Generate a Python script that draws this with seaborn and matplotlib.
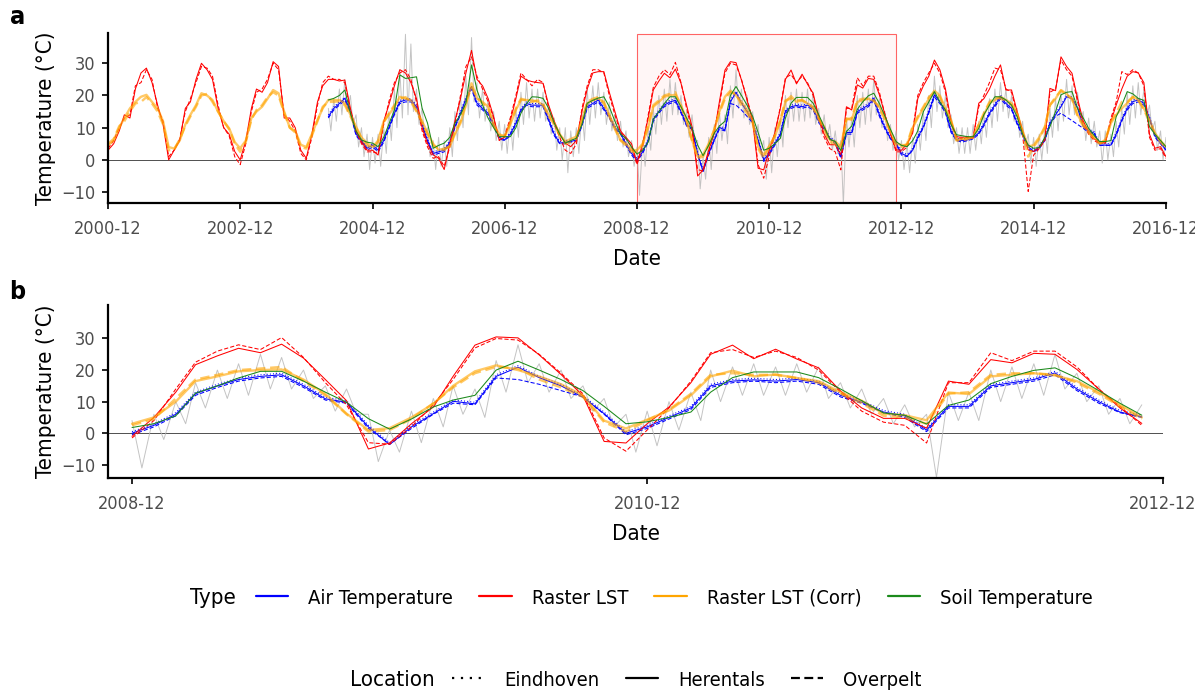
import matplotlib
matplotlib.use("Agg")
import numpy as np
import pandas as pd
import matplotlib.pyplot as plt
import matplotlib.dates as mdates
from matplotlib.lines import Line2D
import seaborn as sns

# ---- data (monthly values) ----
months = pd.date_range("2000-12-01", "2016-12-01", freq="MS")   # 193 months

# Raster LST, Herentals (solid) / Overpelt (dashed), 2000-12 .. 2016-12
lst_herentals = [3,
    5, 9, 14, 13, 22, 27, 28.5, 24, 17, 11, 0, 3,
    6, 16, 18, 25, 30, 28, 25, 16, 10, 8, 2.6, 0,
    6, 16, 22, 21, 24, 30.5, 29, 13, 13, 10, 3, 0.5,
    8, 18, 23, 25, 25, 24.5, 24.8, 16, 9, 5.7, 3, 3,
    1.5, 12, 17, 23, 28, 27, 24, 19, 10, 5, 1.6, 0.5,
    -3, 5, 12, 19, 27, 34, 25, 23, 19, 13.4, 6.2, 7,
    12, 19, 26, 24.8, 24.3, 24, 23.8, 17, 12, 8, 5.2, 4.1,
    6, 15, 22, 27, 27.4, 27.4, 21, 15, 9, 7, 5, -1,
    5, 13, 21.7, 24.5, 26.9, 25.5, 28.2, 23.8, 17, 10.3, -5, -3.1,
    3, 8.3, 18, 27.9, 30.5, 30.2, 24.8, 18.6, 11.9, -2.6, -3.1, 3,
    8.3, 16, 25, 27.9, 23.6, 26.6, 23.5, 20.7, 13.4, 8, 4.7, 4.7,
    1.6, 16.5, 15.5, 23.3, 22.3, 25.3, 25, 20.2, 14, 8, 3.1, 3,
    5, 8.3, 19, 23, 26, 31, 28, 22, 12, 7.2, 7, 7.2,
    6.7, 17.6, 19, 22, 26, 29.5, 21.7, 21.7, 15, 9, 3.1, 2.6,
    4, 6.5, 22.2, 21.5, 32, 29, 26.9, 19, 12, 8.8, 6.5, 5.5,
    5.2, 12, 17, 22, 26, 27.4, 27, 24, 8, 3.6, 4.1, 1]
lst_overpelt = [3.5,
    6, 10, 13, 14, 23, 24, 28, 25, 16, 12, 1, 3,
    6.5, 15, 19, 24, 29, 28.5, 26, 17, 10, 7.5, 1, -1.5,
    5, 15, 21, 22, 25, 30, 28, 14, 12, 9, 2, 0,
    7, 17, 24, 26, 25, 25, 24, 15, 9, 5, 2.5, 2.5,
    2, 11, 18, 24, 27, 28, 25, 18, 9, 4, 0.5, 1,
    -2, 4, 11, 20, 29, 32, 26, 22, 18, 13, 6, 7.5,
    13, 20, 27, 25, 23, 25, 24, 16, 11, 7, 3, 2,
    5, 16, 23, 28, 28, 27, 20, 14, 8.5, 6.5, 4, -1.5,
    4, 14, 22.5, 26, 28, 26.5, 30.3, 24, 16, 9, -3, -3.5,
    2, 9, 17, 27, 30, 29.5, 25, 19, 12.5, -1.5, -5.7, 1,
    8, 16.5, 25.5, 26.5, 24, 26, 24, 20, 13, 7, 3.5, 2.5,
    -3.1, 16, 16, 25.5, 23, 26, 26, 21, 14, 8.5, 2.5, 2.5,
    4, 9, 20, 24, 27, 30, 27, 21, 11, 7, 6.5, 7,
    7, 16.5, 20, 24, 28.5, 28, 22, 21, 14, 8, -9.8, 1.5,
    3.5, 6, 21, 22, 31, 28, 26, 18, 11, 8, 6, 5,
    5.5, 13, 18, 27.4, 26.5, 28, 27, 23, 7, 3, 3.5, 0.5]

# Raster LST (Corr)
lstc_herentals = [4.5,
    6, 10, 13, 16, 18, 19.6, 20.2, 18, 16, 12, 4, 3.5,
    6, 11, 14, 17, 20.7, 20, 18.6, 15, 12, 9.8, 5.5, 3.6,
    6, 13, 15, 16.5, 19, 21.7, 20.7, 15, 10, 9, 4.7, 4,
    8, 12.4, 16, 18.6, 18.6, 18.6, 17.6, 14, 10.3, 7, 5.2, 4,
    6, 12, 14, 16.5, 19.6, 19, 18.6, 15.5, 12, 8.3, 5, 3.1,
    3.5, 4.1, 8, 11.4, 17, 23.8, 19.1, 18, 16.5, 11, 8, 7.2,
    11, 15.5, 18.6, 18.6, 18.5, 18.1, 17, 14, 11.4, 8, 5.7, 6.5,
    7.2, 12, 17.6, 18.5, 19.1, 18, 14, 10, 6.2, 5, 3.1, 3,
    5, 10, 16.5, 18, 19.6, 20, 20.2, 17, 12.4, 6.2, 1, 1.6,
    5, 9.3, 15, 19.6, 21.5, 20, 18, 15.5, 12, 4, 1.5, 4.3,
    7.2, 12, 18, 19.8, 18, 18.6, 17.5, 16.5, 13, 10.3, 6.2, 5.7,
    4.1, 12.9, 12.4, 18, 18.5, 19, 18.3, 16.5, 13, 9, 5, 4.6,
    4.6, 10, 13, 16, 19, 21.5, 20, 16, 12.4, 6.2, 6.5, 6.7,
    7.2, 11, 14, 17.6, 18.6, 19.6, 18.6, 17.6, 14.5, 9, 4.1, 4.6,
    7, 10.3, 17, 19, 21.7, 20.5, 19, 14, 11, 9, 7, 5.2,
    6.2, 11.4, 14, 16, 17.6, 19.6, 18.6, 16, 12.4, 8.3, 6, 4]
lstc_overpelt = [5,
    6.5, 10.5, 12, 15, 17.5, 18, 19.5, 17.5, 15, 11, 3, 3,
    6.5, 10.5, 13.5, 16.5, 20, 20.5, 18, 15, 12, 9.5, 5, 2.5,
    5.5, 12.5, 15.5, 17, 19.5, 21, 20, 14.5, 10, 8.5, 4, 3.5,
    7.5, 12, 16.5, 18, 18, 18.2, 17, 13.5, 10, 6.5, 4.5, 3.5,
    5.5, 11.5, 14.5, 17, 19, 19.5, 18, 15, 11.5, 8, 4.5, 3.5,
    3, 4.5, 8.5, 12, 18, 22.5, 19.5, 17.5, 16, 10.5, 7.5, 7.5,
    11.5, 16, 19, 18.5, 18, 18.5, 17.5, 13.5, 11, 7.5, 5, 5.5,
    6.5, 12.5, 18, 19, 19.5, 17.5, 13.5, 9.5, 6, 4.5, 2.5, 2.5,
    4.5, 11, 17, 18.5, 20, 20.5, 21, 16.5, 12, 6, 0.5, 1,
    4.5, 9.5, 14.5, 19, 21, 20.5, 17, 14.5, 11.5, 3.5, 0.5, 4,
    7.5, 12.5, 18.5, 19, 18.5, 18.5, 17.5, 16, 12.5, 9.5, 5.5, 5,
    3, 12.5, 13, 18.5, 19, 19, 18.5, 16, 12.5, 8.5, 4.5, 4,
    5, 10.5, 13.5, 16.5, 19.5, 21, 19.5, 15.5, 12, 6, 6, 6.5,
    7, 11, 14.5, 18, 19.5, 19, 18.5, 17, 14, 8.5, 1, 4,
    6.5, 10, 17, 19.5, 21.5, 20, 19, 13.5, 10.5, 8.5, 6.5, 5,
    6, 12, 14.5, 18, 18, 19.5, 18.5, 15.5, 12, 8, 5.5, 3.5]

# in-situ series start 2004-04 (month index 40)
insitu_start = 40
air_herentals = [13.4, 16, 17.5, 19.1, 15, 8, 6, 3.6, 4.6,
    3, 6, 10, 14.5, 18, 18.6, 18.6, 16.5, 11, 6, 2, 2.5,
    3, 5.5, 10.3, 14.5, 19, 22.8, 17.6, 16, 14.5, 11, 7, 6.2,
    8, 11.4, 15.5, 17.5, 17, 17, 17, 12.5, 8, 5.2, 5.5, 5.7,
    6.2, 11, 16.5, 17.5, 18.6, 16, 13.4, 10, 8.3, 5, 2, 0,
    2.5, 6, 12.5, 15, 17, 18, 18.5, 15, 10.9, 9.8, 2, -3.6,
    2, 6.2, 10.1, 9.3, 18, 20.9, 17.6, 15, 11.4, 6.2, 0, 2,
    5, 8, 15, 16.5, 16.9, 16.5, 17, 16, 12, 9.8, 6.7, 5.5,
    1, 8.5, 8.5, 15, 16, 17, 19.1, 14, 10, 6.7, 5.2, 2,
    1.2, 3.1, 7, 10.3, 15, 20.2, 18, 15, 9, 6.2, 6, 6.2,
    7, 8.3, 11, 14.5, 17, 19.6, 17.5, 16, 11.4, 8, 4.1, 2.6,
    4, 6.2, 11.4, 14, 16.5, 19.6, 19, 16, 10.3, 9, 8.3, 4.6,
    4.6, 4.6, 8, 12.4, 16, 18.1, 18.6, 17.6, 13, 7.5, 5.2, 3.1]
air_overpelt = [13, 15.5, 17, 18.5, 14.5, 7.5, 5.5, 3, 4,
    2.5, 5.5, 9.5, 14, 17.5, 18, 18, 16, 10.5, 5.5, 1.5, 2,
    2.5, 5, 10, 14, 18.5, 22, 17, 15.5, 14, 10.5, 6.5, 6,
    7.5, 11, 15, 17, 16.5, 16.5, 16.5, 12, 7.5, 5, 5, 5.5,
    6, 10.5, 16, 17, 18, 15.5, 13, 9.5, 8, 4.5, 1.5, -0.5,
    2, 5.5, 12, 14.5, 16.5, 17.5, 18, 14.5, 10.5, 9.5, 1.5, -3.5,
    1.5, 6, 9.5, 9, 17.5, 17, 15.5, 13.5, 11.5, 6, -0.5, 1.5,
    4.5, 7.5, 14.5, 16, 16.5, 16, 16.5, 15.5, 11.5, 9.5, 6.5, 5,
    0.5, 8, 8, 14.5, 15.5, 16.5, 18.5, 13.5, 9.5, 6.5, 5, 1.5,
    1, 3, 6.5, 10, 14.5, 19.5, 17.5, 14.5, 8.5, 6, 5.5, 6,
    6.5, 8, 10.5, 14, 16.5, 19, 17, 15.5, 11, 7.5, 3.5, 2.5,
    3.5, 6, 11, 13.5, 14.5, 13.3, 12.2, 11, 9.8, 8.5, 8, 4.5,
    4.5, 4.5, 7.5, 12, 15.5, 17.5, 18, 17, 12.5, 7, 5, 3]
air_eindhoven = [14, 16.5, 18, 19.5, 15.5, 8.5, 6.5, 4, 5,
    3.5, 6.5, 10.5, 15, 18.5, 19, 19, 17, 11.5, 6.5, 2.5, 3,
    3.5, 6, 10.8, 15, 19.5, 23, 18, 16.5, 15, 11.5, 7.5, 6.7,
    8.5, 12, 16, 18, 17.5, 17.5, 17.5, 13, 8.5, 5.7, 6, 6.2,
    6.7, 11.5, 17, 18, 19, 16.5, 14, 10.5, 8.8, 5.5, 2.5, 0.5,
    3, 6.5, 13, 15.5, 17.5, 18.5, 19, 15.5, 11.4, 10.3, 2.5, -3,
    2.5, 6.7, 10.6, 9.8, 18.5, 21.4, 18, 15.5, 11.9, 6.7, 0.5, 2.5,
    5.5, 8.5, 15.5, 17, 17.4, 17, 17.5, 16.5, 12.5, 10.3, 7.2, 6,
    1.5, 9, 9, 15.5, 16.5, 17.5, 19.6, 14.5, 10.5, 7.2, 5.7, 2.5,
    1.7, 3.6, 7.5, 10.8, 15.5, 20.7, 18.5, 15.5, 9.5, 6.7, 6.5, 6.7,
    7.5, 8.8, 11.5, 15, 17.5, 20.1, 18, 16.5, 11.9, 8.5, 4.6, 3.1,
    4.5, 6.7, 11.9, 14.5, 17, 20.1, 19.5, 16.5, 10.8, 9.5, 8.8, 5.1,
    5.1, 5.1, 8.5, 12.9, 16.5, 18.6, 19.1, 18.1, 13.5, 8, 5.7, 3.6]
soil_herentals = [18.6, 19.1, 20, 21.7, 14.5, 9, 6.2, 5.5, 5.2,
    4.1, 7, 11, 15.5, 26.4, 25.3, 25.5, 25.8, 16, 11.4, 3.6, 4.5,
    5.2, 7, 11.4, 14, 17.6, 29.5, 21.7, 17, 12.9, 10, 7.2, 7.2,
    7.2, 10, 14.5, 17.5, 19.6, 19.5, 19.1, 16, 11.4, 8, 5.2, 6,
    6.7, 11, 17.6, 18.5, 19.2, 19.6, 16.5, 12, 8, 6.7, 4, 1.8,
    3, 5.5, 12.7, 15, 17.5, 19.6, 19.6, 16.5, 13, 9.8, 4.6, 1.3,
    4.5, 8.3, 10.5, 12, 20, 22.8, 20, 17, 13.5, 8.5, 3, 3.6,
    5, 6.7, 13, 17.6, 19.4, 19.4, 19.4, 17.6, 14, 10.3, 6.4, 5.7,
    2.9, 8.8, 10.5, 15.7, 18, 19.9, 20.7, 17.5, 13.5, 9.5, 5.7, 4.5,
    4.1, 6, 9, 15, 18, 21.2, 18, 15.5, 11, 7.8, 7.5, 7.2,
    7.2, 9.8, 14, 17, 19.6, 19.6, 18.6, 17, 13.4, 8, 4.6, 3.6,
    3.8, 7, 10.3, 15, 20.2, 21, 21.2, 16, 13, 9.8, 7.5, 5.7,
    5.7, 6, 13.4, 17, 21.2, 20.5, 19.1, 18.5, 10.3, 8, 6, 4.1]

# daily station record (grey), thinned to two readings per month from 2004-04
station_dates = pd.date_range("2004-04-01", "2016-12-16", freq="SMS")
station_temp = [16, 9, 19, 12, 22, 14, 25, 15, 20, 11, 14, 4, 10, 1, 8, -3, 7, -1,
    8, -2, 10, 2, 15, 6, 22, 10, 28, 13, 39, 14, 36, 15, 22, 11, 16, 7, 10, 1, 6, -3, 7, -2,
    6, -2, 10, 1, 15, 6, 20, 10, 26, 14, 38, 18, 24, 13, 22, 12, 19, 9, 15, 6, 12, 3, 11, 2,
    13, 3, 16, 7, 21, 11, 24, 13, 22, 12, 22, 13, 21, 12, 17, 8, 13, 3, 10, 0, 10, -4, 9, 1,
    10, 2, 15, 6, 22, 11, 23, 13, 24, 14, 21, 11, 18, 9, 14, 6, 12, 4, 9, 1, 6, -2, 4, -11,
    6, -2, 10, 3, 16, 8, 20, 11, 22, 12, 25, 14, 24, 14, 20, 11, 15, 7, 14, 6, 6, -9, 1, -6,
    7, -3, 11, 2, 15, 6, 14, 5, 23, 13, 28, 16, 22, 13, 20, 11, 15, 7, 11, 2, 6, -6, 7, -4,
    10, 1, 13, 4, 20, 10, 21, 12, 22, 12, 21, 12, 22, 13, 21, 11, 16, 8, 14, 6, 11, 3, 9, 2,
    6, -14, 13, 4, 13, 4, 20, 10, 21, 11, 22, 12, 25, 14, 19, 10, 15, 6, 11, 3, 9, 0, 6, -3,
    5, -4, 7, -1, 11, 3, 15, 6, 20, 10, 26, 15, 23, 13, 20, 10, 14, 5, 10, 2, 10, 2, 10, 2,
    11, 3, 12, 5, 15, 7, 19, 10, 22, 12, 24, 15, 22, 13, 20, 12, 16, 7, 12, 4, 8, -1, 7, -2,
    8, 0, 10, 2, 16, 7, 19, 9, 21, 12, 25, 14, 23, 14, 21, 12, 15, 6, 13, 5, 12, 4, 9, -1,
    9, 0, 8, 1, 12, 4, 16, 8, 21, 11, 23, 13, 24, 14, 22, 13, 17, 9, 12, 3, 9, 0, 7, -1]

types = ["Air Temperature", "Raster LST", "Raster LST (Corr)", "Soil Temperature"]
locations = ["Eindhoven", "Herentals", "Overpelt"]
zoom_start, zoom_end = pd.Timestamp("2008-12-01"), pd.Timestamp("2012-11-01")

# ---- long table ----
def series(vals, typ, loc, dates):
    return pd.DataFrame({"Date": dates, "Temperature": vals, "Type": typ, "Location": loc})

situ = months[insitu_start:]
df = pd.concat([
    series(air_eindhoven, "Air Temperature", "Eindhoven", situ),
    series(air_herentals, "Air Temperature", "Herentals", situ),
    series(air_overpelt, "Air Temperature", "Overpelt", situ),
    series(lst_herentals, "Raster LST", "Herentals", months),
    series(lst_overpelt, "Raster LST", "Overpelt", months),
    series(lstc_herentals, "Raster LST (Corr)", "Herentals", months),
    series(lstc_overpelt, "Raster LST (Corr)", "Overpelt", months),
    series(soil_herentals, "Soil Temperature", "Herentals", situ),
], ignore_index=True)
station = pd.DataFrame({"Date": station_dates, "Temperature": station_temp})

# ---- style ----
sns.set_theme(style="ticks")
plt.rcParams["font.family"] = ["DejaVu Sans"]
plt.rcParams["font.stretch"] = "condensed"   # narrow face, closer to the original font
plt.rcParams["text.color"] = "black"

colours = {"Air Temperature": "#0000FF", "Raster LST": "#FF0000",
           "Raster LST (Corr)": "#FFA500", "Soil Temperature": "#1B8A1B"}
dash_map = {"Eindhoven": (1, 2), "Herentals": "", "Overpelt": (4, 2)}
widths = {"Air Temperature": 0.75, "Raster LST": 0.75, "Raster LST (Corr)": 1.7, "Soil Temperature": 0.75}
alphas = {"Air Temperature": 1, "Raster LST": 1, "Raster LST (Corr)": 0.6, "Soil Temperature": 1}

fig = plt.figure(figsize=(11.95, 6.92), dpi=100)
ax_a = fig.add_axes([0.0904, 0.7066, 0.8853, 0.2457])
ax_b = fig.add_axes([0.0904, 0.3092, 0.8828, 0.2500])


def draw(ax, d, st):
    sns.lineplot(data=st, x="Date", y="Temperature", color="#B5B5B5", lw=0.7,
                 alpha=0.8, ax=ax, estimator=None)
    for t in types:
        sub = d[d["Type"] == t]
        sns.lineplot(data=sub, x="Date", y="Temperature", color=colours[t],
                     style="Location", dashes=dash_map, lw=widths[t], alpha=alphas[t],
                     estimator=None, legend=False, ax=ax)
    ax.axhline(0, color="#333333", lw=0.6, zorder=1)
    for side in ["top", "right"]:
        ax.spines[side].set_visible(False)
    for side in ["left", "bottom"]:
        ax.spines[side].set_linewidth(1.6)
        ax.spines[side].set_color("black")
    ax.tick_params(axis="both", length=4, width=1.2, color="black", pad=5,
                   labelsize=13, labelcolor="#4D4D4D")
    ax.tick_params(axis="x", pad=8)
    ax.set_yticks([-10, 0, 10, 20, 30])
    ax.xaxis.set_major_formatter(mdates.DateFormatter("%Y-%m"))
    ax.set_ylabel("Temperature (°C)", fontsize=16, color="black", labelpad=4)
    ax.set_xlabel("Date", fontsize=16, color="black", labelpad=8)
    ax.grid(False)


draw(ax_a, df, station)
ax_a.axvspan(zoom_start, zoom_end, ymin=0, ymax=0.995, facecolor=(1, 0, 0, 0.035),
             edgecolor=(1, 0, 0, 0.6), lw=0.8, zorder=0)
ax_a.set_xlim(pd.Timestamp("2000-12-01"), pd.Timestamp("2016-12-01"))
ax_a.set_ylim(-13.4, 39.4)
ax_a.set_xticks(pd.date_range("2000-12-01", "2016-12-01", freq="24MS"))

in_zoom = (df["Date"] >= zoom_start) & (df["Date"] <= zoom_end)
st_zoom = (station["Date"] >= zoom_start) & (station["Date"] <= zoom_end)
draw(ax_b, df[in_zoom], station[st_zoom])
ax_b.set_xlim(pd.Timestamp("2008-10-28"), pd.Timestamp("2012-12-01"))
ax_b.set_ylim(-14.2, 40.6)
ax_b.set_xticks(pd.to_datetime(["2008-12-01", "2010-12-01", "2012-12-01"]))

fig.text(0.008, 0.975, "a", fontsize=18, fontweight="bold", va="center")
fig.text(0.008, 0.578, "b", fontsize=18, fontweight="bold", va="center")

# ---- legends ----
y_type = 1 - 598 / 692
y_loc = 1 - 680 / 692
fig.text(190 / 1195, y_type, "Type", fontsize=16, va="center")
type_handles = [Line2D([], [], color=colours[t], lw=1.6) for t in types]
fig.legend(type_handles, types, loc="center left", bbox_to_anchor=(256 / 1195, y_type),
           ncol=4, frameon=False, fontsize=14.5, handlelength=1.6, handletextpad=1.0,
           columnspacing=1.3, borderpad=0, borderaxespad=0, labelcolor="black")

fig.text(350 / 1195, y_loc, "Location", fontsize=16, va="center")
loc_styles = [(0, (1, 3)), "-", (0, (4, 2))]
loc_handles = [Line2D([], [], color="black", lw=1.6, linestyle=s) for s in loc_styles]
fig.legend(loc_handles, locations, loc="center left", bbox_to_anchor=(452 / 1195, y_loc),
           ncol=3, frameon=False, fontsize=14.5, handlelength=1.6, handletextpad=1.0,
           columnspacing=1.3, borderpad=0, borderaxespad=0, labelcolor="black")

fig.savefig("out.png", dpi=100)
